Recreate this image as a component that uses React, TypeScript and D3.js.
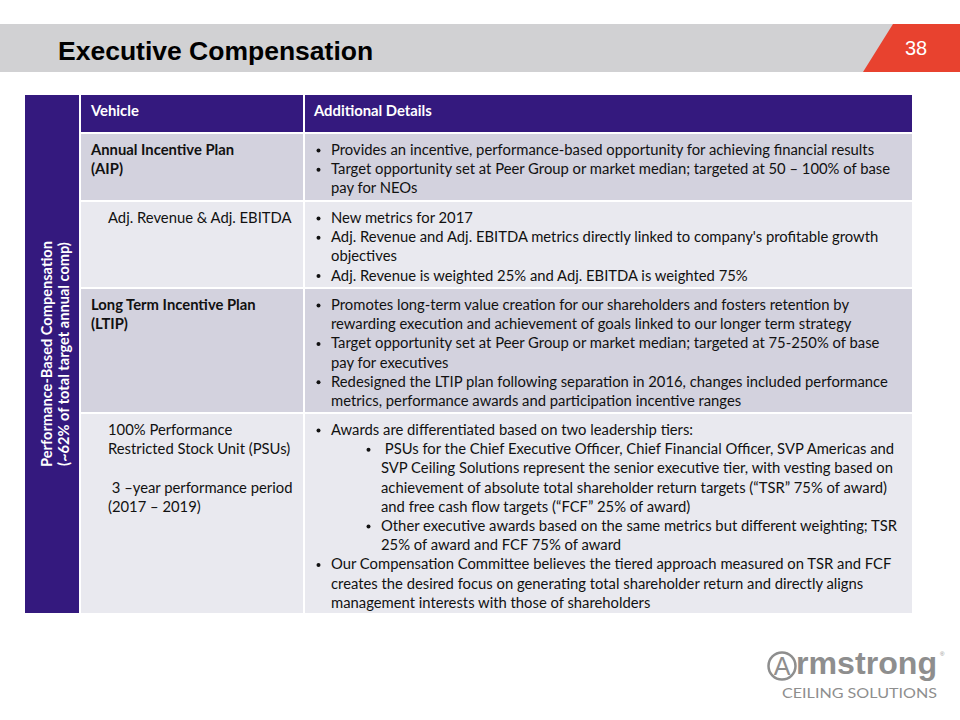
import React from "react";
import * as d3 from "d3";

const TITLE = "Executive Compensation";
const PAGE_NUMBER = "38";
const HEADERS = ["Vehicle", "Additional Details"];
const SIDE_LABEL = ["Performance-Based Compensation", "(~62% of total target annual comp)"];
const VEHICLE_KIND = ["plan", "metric", "plan", "metric"];
const VEHICLES: string[][] = [
  ["Annual Incentive Plan", "(AIP)"],
  ["Adj. Revenue & Adj. EBITDA"],
  ["Long Term Incentive Plan", "(LTIP)"],
  ["100% Performance", "Restricted Stock Unit (PSUs)", "", " 3 \u2013year performance period", "(2017 \u2013 2019)"],
];
type Item = { level: number; lines: string[] };
const DETAILS: Item[][] = [
  [
    { level: 1, lines: ["Provides an incentive, performance-based opportunity for achieving financial results"] },
    { level: 1, lines: ["Target opportunity set at Peer Group or market median; targeted at 50 \u2013 100% of base", "pay for NEOs"] },
  ],
  [
    { level: 1, lines: ["New metrics for 2017"] },
    { level: 1, lines: ["Adj. Revenue and Adj. EBITDA metrics directly linked to company's profitable growth", "objectives"] },
    { level: 1, lines: ["Adj. Revenue is weighted 25% and Adj. EBITDA is weighted 75%"] },
  ],
  [
    { level: 1, lines: ["Promotes long-term value creation for our shareholders and fosters retention by", "rewarding execution and achievement of goals linked to our longer term strategy"] },
    { level: 1, lines: ["Target opportunity set at Peer Group or market median; targeted at 75-250% of base", "pay for executives"] },
    { level: 1, lines: ["Redesigned the LTIP plan following separation in 2016, changes included performance", "metrics, performance awards and participation incentive ranges"] },
  ],
  [
    { level: 1, lines: ["Awards are differentiated based on two leadership tiers:"] },
    { level: 2, lines: [" PSUs for the Chief Executive Officer, Chief Financial Officer, SVP Americas and", "SVP Ceiling Solutions represent the senior executive tier, with vesting based on", "achievement of absolute total shareholder return targets (\u201cTSR\u201d 75% of award)", "and free cash flow targets (\u201cFCF\u201d 25% of award)"] },
    { level: 2, lines: ["Other executive awards based on the same metrics but different weighting; TSR", "25% of award and FCF 75% of award"] },
    { level: 1, lines: ["Our Compensation Committee believes the tiered approach measured on TSR and FCF", "creates the desired focus on generating total shareholder return and directly aligns", "management interests with those of shareholders"] },
  ],
];
const LOGO_WORD = "rmstrong";
const LOGO_SUB = "CEILING SOLUTIONS";

const PURPLE = "#34197e";
const ROW_DARK = "#d3d2de";
const ROW_LIGHT = "#e9e9ef";
const FONT = "Lato, 'Open Sans', sans-serif";
const LINE_H = 19.2;
const FS = 14.8;

export default function App() {
  const tableX0 = 81, tableX1 = 912, colX = 304, tableTop = 95, headerH = 37, gap = 2;
  const heights = DETAILS.map((d, i) => Math.max(d3.sum(d, (it) => it.lines.length), VEHICLES[i].length) * 19.0 + 9);
  const tops: number[] = [];
  let y = tableTop + headerH + gap;
  heights.forEach((h) => { tops.push(y); y += h + gap; });
  const tableBottom = y - gap;

  return (
    <svg width={960} height={720} style={{ position: "absolute", left: 0, top: 0, background: "#fff" }}>
      {/* header band */}
      <rect x={0} y={24} width={960} height={48} fill="#d1d1d3" />
      <polygon points="893,24 960,24 960,72 863,72" fill="#e8422f" />
      <text x={58} y={60} fontFamily="'Liberation Sans', Arial, sans-serif" fontWeight="bold" fontSize={26.5} fill="#000">{TITLE}</text>
      <text x={916} y={55} textAnchor="middle" fontFamily="'Liberation Sans', Arial, sans-serif" fontSize={20} fill="#fff">{PAGE_NUMBER}</text>

      {/* side label */}
      <rect x={25} y={tableTop} width={54} height={tableBottom - tableTop} fill={PURPLE} />
      {SIDE_LABEL.map((s, i) => (
        <text key={i} transform={`translate(${52 + i * 16.5},${(tableTop + tableBottom) / 2}) rotate(-90)`} textAnchor="middle"
          fontFamily={FONT} fontWeight="bold" fontSize={14.6} fill="#fff">{s}</text>
      ))}

      {/* header row */}
      <rect x={tableX0} y={tableTop} width={tableX1 - tableX0} height={headerH} fill={PURPLE} />
      <rect x={colX - 1} y={tableTop} width={2} height={headerH} fill="#fff" />
      <text x={91} y={tableTop + 21} fontFamily={FONT} fontWeight="bold" fontSize={FS} fill="#fff">{HEADERS[0]}</text>
      <text x={314} y={tableTop + 21} fontFamily={FONT} fontWeight="bold" fontSize={FS} fill="#fff">{HEADERS[1]}</text>

      {DETAILS.map((items, r) => {
        const top = tops[r];
        const h = heights[r];
        const fill = r % 2 === 0 ? ROW_DARK : ROW_LIGHT;
        const isPlan = VEHICLE_KIND[r] === "plan";
        let li = 0;
        const detailEls: React.ReactNode[] = [];
        items.forEach((it, k) => {
          const bx = it.level === 1 ? 316 : 366;
          const tx = it.level === 1 ? 331 : 381;
          detailEls.push(
            <circle key={`b${k}`} cx={bx + 2.5} cy={top + 16.5 + li * LINE_H} r={2} fill="#111" />
          );
          it.lines.forEach((ln, j) => {
            detailEls.push(
              <text key={`t${k}_${j}`} x={tx} y={top + 21 + (li + j) * LINE_H} fontFamily={FONT} fontSize={FS} fill="#111" style={{ whiteSpace: "pre" }}>{ln}</text>
            );
          });
          li += it.lines.length;
        });
        return (
          <g key={r}>
            <rect x={tableX0} y={top} width={colX - 1 - tableX0} height={h} fill={fill} />
            <rect x={colX + 1} y={top} width={tableX1 - colX - 1} height={h} fill={fill} />
            {VEHICLES[r].map((ln, j) => (
              <text key={j} x={isPlan ? 91 : 108} y={top + 21 + j * LINE_H} fontFamily={FONT} fontWeight={isPlan ? "bold" : "normal"}
                fontSize={FS} fill="#111" style={{ whiteSpace: "pre" }}>{ln}</text>
            ))}
            {detailEls}
          </g>
        );
      })}

      {/* logo */}
      <circle cx={782} cy={666} r={13.5} fill="none" stroke="#8e8e8e" strokeWidth={2.5} />
      <text x={782} y={675} textAnchor="middle" fontFamily="'Liberation Sans', Arial, sans-serif" fontSize={25} fill="#8e8e8e">A</text>
      <text x={796} y={674} fontFamily="'Liberation Sans', Arial, sans-serif" fontWeight="bold" fontSize={32} fill="#8e8e8e" textLength={141} lengthAdjust="spacingAndGlyphs">{LOGO_WORD}</text>
      <text x={940} y={656} fontFamily="'Liberation Sans', Arial, sans-serif" fontSize={6} fill="#8e8e8e">®</text>
      <text x={782} y={698} fontFamily={FONT} fontSize={14} fill="#8e8e8e" textLength={155} lengthAdjust="spacingAndGlyphs">{LOGO_SUB}</text>
    </svg>
  );
}
